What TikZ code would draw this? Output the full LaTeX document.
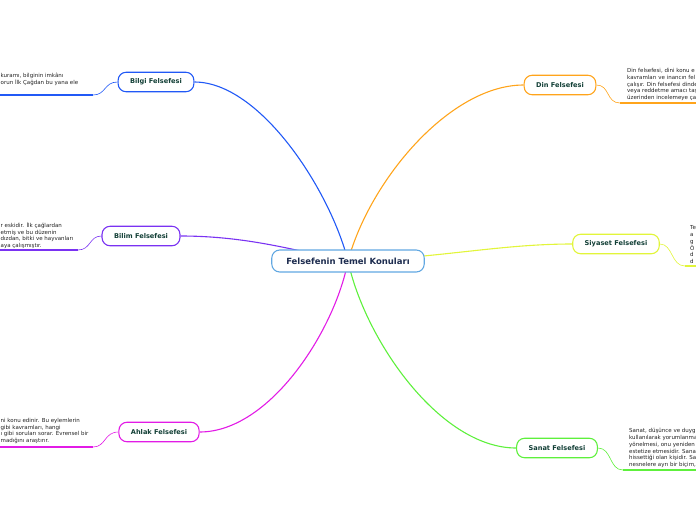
\documentclass[tikz,border=0pt]{standalone}
\usepackage{fontspec}
\setmainfont{DejaVu Sans}
\usepackage{xcolor}
\usepackage{tikz}
\usetikzlibrary{backgrounds}
\definecolor{tinta}{HTML}{123F36}
\definecolor{tintaCentro}{HTML}{1D2C4F}
\definecolor{grisTexto}{HTML}{222222}
\definecolor{bordeCentro}{HTML}{62A8E2}
\definecolor{azul}{HTML}{2159F6}
\definecolor{morado}{HTML}{7A32F2}
\definecolor{fucsia}{HTML}{E21BE6}
\definecolor{naranja}{HTML}{FFA41B}
\definecolor{lima}{HTML}{E2F53A}
\definecolor{verde}{HTML}{5EF03C}

\begin{document}
\begin{tikzpicture}[x=1pt,y=-1pt,
    caja/.style={draw,rounded corners=8pt,fill=white,line width=1.1pt,
                 minimum height=19.5pt,inner xsep=12pt,
                 font=\fontsize{6.6}{7}\selectfont\bfseries\color{tinta}},
    centro/.style={caja,draw=bordeCentro,minimum height=22pt,inner xsep=14.5pt,
                 font=\fontsize{8.5}{9}\selectfont\bfseries\color{tintaCentro}},
    nota/.style={inner sep=0pt,align=left,anchor=south west,
                 font=\fontsize{5.5}{6.8}\selectfont\color{grisTexto}},
    rama/.style={line width=1.1pt},
    hilo/.style={line width=0.6pt},
    raya/.style={line width=2pt}]
  \useasboundingbox (0,0) rectangle (696,520);
  \clip (0,0) rectangle (696,520);
  \node[centro] (temel) at (348,261) {Felsefenin Temel Konuları};
  \node[caja,draw=azul] (bilgi) at (156,82) {Bilgi Felsefesi};
  \node[caja,draw=morado] (bilim) at (141,236) {Bilim Felsefesi};
  \node[caja,draw=fucsia] (ahlak) at (159,432) {Ahlak Felsefesi};
  \node[caja,draw=naranja] (din) at (560,85) {Din Felsefesi};
  \node[caja,draw=lima] (siyaset) at (616,244) {Siyaset Felsefesi};
  \node[caja,draw=verde] (sanat) at (557,448) {Sanat Felsefesi};
  % notas
  \node[nota] (bilgiNota) at (0.5,86) {kuramı, bilginin imkânı\\orun İlk Çağdan bu yana ele};
  \node[nota] (bilimNota) at (0.5,249) {r eskidir. İlk çağlardan\\etmiş ve bu düzenin\\dızdan, bitki ve hayvanları\\aya çalışmıştır.};
  \node[nota] (ahlakNota) at (0.5,444) {ni konu edinir. Bu eylemlerin\\gibi kavramları, hangi\\ı gibi soruları sorar. Evrensel bir\\madığını araştırır.};
  \node[nota] (dinNota) at (627,101) {Din felsefesi, dini konu e\\kavramları ve inancın fel\\çalışır. Din felsefesi dinde\\veya reddetme amacı taş\\üzerinden incelemeye çal};
  \node[nota] (siyasetNota) at (690,264) {Te\\a\\g\\Ö\\d\\d};
  \node[nota] (sanatNota) at (629,468) {Sanat, düşünce ve duyg\\kullanılarak yorumlanma\\yönelmesi, onu yeniden\\estetize etmesidir. Sana\\hissettiği olan kişidir. Sa\\nesnelere ayrı bir biçim,};
  \coordinate (bilgiA) at (93,95);   \coordinate (bilgiB) at (0,95);
  \coordinate (bilimA) at (78,250);  \coordinate (bilimB) at (0,250);
  \coordinate (ahlakA) at (93,447);  \coordinate (ahlakB) at (0,447);
  \coordinate (dinA) at (620,103);   \coordinate (dinB) at (696,103);
  \coordinate (siyasetA) at (685,266); \coordinate (siyasetB) at (696,266);
  \coordinate (sanatA) at (623,470); \coordinate (sanatB) at (696,470);
  \begin{scope}[on background layer]
    \draw[rama,azul] (bilgi.east) .. controls (260,82) and (330,190) .. (temel.center);
    \draw[rama,morado] (bilim.east) .. controls (250,236) and (300,252) .. (temel.center);
    \draw[rama,fucsia] (ahlak.east) .. controls (270,432) and (335,330) .. (temel.center);
    \draw[rama,naranja] (din.west) .. controls (450,85) and (370,180) .. (temel.center);
    \draw[rama,lima] (siyaset.west) .. controls (500,244) and (440,258) .. (temel.center);
    \draw[rama,verde] (sanat.west) .. controls (440,448) and (365,340) .. (temel.center);
    \draw[hilo,azul] (bilgi.west) .. controls (104,82) and (106,95) .. (bilgiA);
    \draw[raya,azul] (bilgiA) -- (bilgiB);
    \draw[hilo,morado] (bilim.west) .. controls (89,236) and (91,250) .. (bilimA);
    \draw[raya,morado] (bilimA) -- (bilimB);
    \draw[hilo,fucsia] (ahlak.west) .. controls (104,432) and (106,447) .. (ahlakA);
    \draw[raya,fucsia] (ahlakA) -- (ahlakB);
    \draw[hilo,naranja] (din.east) .. controls (610,85) and (606,103) .. (dinA);
    \draw[raya,naranja] (dinA) -- (dinB);
    \draw[hilo,lima] (siyaset.east) .. controls (673,244) and (671,266) .. (siyasetA);
    \draw[raya,lima] (siyasetA) -- (siyasetB);
    \draw[hilo,verde] (sanat.east) .. controls (612,448) and (609,470) .. (sanatA);
    \draw[raya,verde] (sanatA) -- (sanatB);
  \end{scope}
\end{tikzpicture}
\end{document}
